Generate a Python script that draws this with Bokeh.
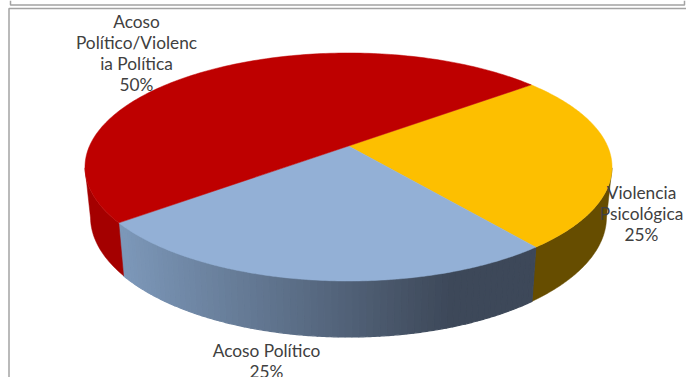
import numpy as np
from bokeh.plotting import figure
from bokeh.embed import file_html
from bokeh.resources import INLINE
from bokeh.core.properties import value

# --- data -------------------------------------------------------------
categories = ["Violencia Psicológica", "Acoso Político", "Acoso Político/Violencia Política"]
percent = [25, 25, 50]
label_names = ["Violencia\nPsicológica", "Acoso Político", "Acoso\nPolítico/Violenc\nia Política"]
top_colors = ["#FDBF00", "#93B0D6", "#BE0000"]
wall_colors = ["#664D00", None, "#A40000"]
gradient_ends = ["#7C97B8", "#3D4859"]

# --- geometry of the tilted disc (page pixels, y grows downward) --------
W, H = 686, 377
CX, TOP_CY, TOP_A, TOP_B = 348.0, 166.5, 263.5, 114.0
BOT_CY, BOT_A, BOT_B = 216.5, 258.0, 120.0
K = 21.0 / TOP_B          # perspective: the pie's apex sits above the ellipse centre
START_DEG = 38.2


def persp(theta):
    """True pie angle -> parameter angle on the drawn ellipse."""
    s, c = np.sin(theta), np.cos(theta)
    d = 1 + K * s
    return np.arctan2((s + K) / d, c * np.sqrt(1 - K * K) / d)


def rim(t, cy, a, b):
    return CX + a * np.cos(t), cy - b * np.sin(t)


def hex_mix(c0, c1, f):
    a = [int(c0[i:i + 2], 16) for i in (1, 3, 5)]
    b = [int(c1[i:i + 2], 16) for i in (1, 3, 5)]
    return "#%02x%02x%02x" % tuple(round(x + (y - x) * f) for x, y in zip(a, b))


p = figure(width=W, height=H, x_range=(0, W), y_range=(H, 0),
           output_backend="svg", toolbar_location=None, min_border=0,
           outline_line_color=None,
           background_fill_color="white", border_fill_color="white")
p.axis.visible = False
p.grid.visible = False

# frame lines of the surrounding page
FRAME = "#A3A3A3"
p.line([10, 10, 684, 684], [0, 4.5, 4.5, 0], line_color=FRAME, line_width=1.5)
p.line([8.5, 8.5, 686], [377, 8, 8], line_color=FRAME, line_width=1.5)

# slice boundaries from the values
ends = START_DEG - np.cumsum(percent) * 3.6
starts = np.concatenate([[START_DEG], ends[:-1]])
slices = [np.unwrap(persp(np.radians(np.linspace(s, e, 160)))) for s, e in zip(starts, ends)]

# walls: only the near half of the rim is visible
for t, wc in zip(slices, wall_colors):
    if wc is not None:
        tt = t[np.sin(t) <= 0]
        x1, y1 = rim(tt, TOP_CY, TOP_A, TOP_B)
        x2, y2 = rim(tt, BOT_CY, BOT_A, BOT_B)
        p.patch(np.r_[x1, x2[::-1]], np.r_[y1, y2[::-1]], fill_color=wc, line_color=wc, line_width=0.5)
    else:
        # the rim runs right to left; shading is flat dark at the right, then lightens to the left
        edges = np.linspace(t[0], t[-1], 70)
        for i in range(len(edges) - 1):
            tt = np.linspace(edges[i], edges[i + 1], 4)
            x1, y1 = rim(tt, TOP_CY, TOP_A, TOP_B)
            x2, y2 = rim(tt, BOT_CY, BOT_A, BOT_B)
            xmid = x1.mean()
            f = np.clip((450 - xmid) / (450 - 123), 0, 1)
            col = hex_mix(gradient_ends[1], gradient_ends[0], f)
            p.patch(np.r_[x1, x2[::-1]], np.r_[y1, y2[::-1]], fill_color=col, line_color=col, line_width=1.2)

# top face
apex_y = TOP_CY - K * TOP_B
for t, c in zip(slices, top_colors):
    x, y = rim(t, TOP_CY, TOP_A, TOP_B)
    p.patch(np.r_[CX, x], np.r_[apex_y, y], fill_color=c, line_color=c, line_width=0.5)

# labels
label_xy = [(641, 212.5), (266, 360), (136, 52)]
label_text = [f"{n}\n{v}%" for n, v in zip(label_names, percent)]
p.text(x=[q[0] for q in label_xy], y=[q[1] for q in label_xy], text=label_text,
       text_align="center", text_baseline="middle", text_color="#404040",
       text_font=value("Lato"), text_font_size="17.3px", text_line_height=1.0)

open("out.html", "w").write(file_html(p, INLINE))
